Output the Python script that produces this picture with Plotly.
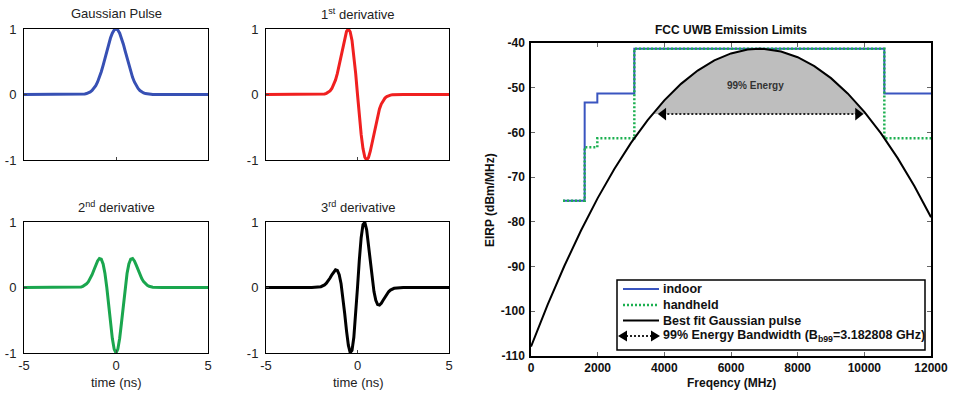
import plotly.graph_objects as go

W, H = 956, 393
FONT = "Liberation Sans, Arial, sans-serif"


def px(x):
    return x / W


def py(y):
    return 1 - y / H


# ---------------- data: left panels (time in ns, normalised amplitude) ----------------
time_ns = [-5.0, -2.5, -2.0, -1.9, -1.8, -1.7, -1.6, -1.5, -1.4, -1.3, -1.2, -1.1, -1.0,
           -0.9, -0.8, -0.7, -0.6, -0.5, -0.4, -0.3, -0.2, -0.1, 0.0, 0.1, 0.2, 0.3, 0.4,
           0.5, 0.6, 0.7, 0.8, 0.9, 1.0, 1.1, 1.2, 1.3, 1.4, 1.5, 1.6, 1.7, 1.8, 1.9, 2.0,
           2.5, 5.0]

gauss_pulse = [0, 0, 0.0013, 0.0026, 0.0047, 0.0084, 0.0145, 0.0243, 0.0392, 0.0612, 0.0925,
               0.1353, 0.1915, 0.2622, 0.3472, 0.4449, 0.5516, 0.6615, 0.7676, 0.8618, 0.9360,
               0.9836, 1.0, 0.9836, 0.9360, 0.8618, 0.7676, 0.6615, 0.5516, 0.4449, 0.3472,
               0.2622, 0.1915, 0.1353, 0.0925, 0.0612, 0.0392, 0.0243, 0.0145, 0.0084, 0.0047,
               0.0026, 0.0013, 0, 0]

deriv1 = [0, 0, 0.0020, 0.0044, 0.0089, 0.0174, 0.0317, 0.0549, 0.0914, 0.1458, 0.2220,
          0.3225, 0.4462, 0.5873, 0.7334, 0.8663, 0.9631, 1.0, 0.9577, 0.8263, 0.6088, 0.3232,
          0, -0.3232, -0.6088, -0.8263, -0.9577, -1.0, -0.9631, -0.8663, -0.7334, -0.5873,
          -0.4462, -0.3225, -0.2220, -0.1458, -0.0914, -0.0549, -0.0317, -0.0174, -0.0089,
          -0.0044, -0.0020, 0, 0]

deriv2 = [0, 0, 0.0050, 0.0094, 0.0179, 0.0327, 0.0554, 0.0888, 0.1354, 0.1958, 0.2670,
          0.3414, 0.4059, 0.4433, 0.4337, 0.3603, 0.2142, 0.0, -0.2614, -0.5346, -0.7754,
          -0.9410, -1.0, -0.9410, -0.7754, -0.5346, -0.2614, 0.0, 0.2142, 0.3603, 0.4337,
          0.4433, 0.4059, 0.3414, 0.2670, 0.1958, 0.1354, 0.0888, 0.0554, 0.0327, 0.0179,
          0.0094, 0.0050, 0, 0]

deriv3 = [0, 0, 0.0126, 0.0230, 0.0398, 0.0652, 0.1005, 0.1449, 0.1946, 0.2411, 0.2695,
          0.2610, 0.1963, 0.0620, -0.1419, -0.3963, -0.6609, -0.8798, -0.9942, -0.9595,
          -0.7605, -0.4208, 0, 0.4208, 0.7605, 0.9595, 0.9942, 0.8798, 0.6609, 0.3963,
          0.1419, -0.0620, -0.1963, -0.2610, -0.2695, -0.2411, -0.1946, -0.1449, -0.1005,
          -0.0652, -0.0398, -0.0230, -0.0126, 0, 0]

time_ticks = [-5, 0, 5]
time_tick_text = ["-5", "0", "5"]
amp_ticks = [-1, 0, 1]
amp_tick_text = ["-1", "0", "1"]

# ---------------- data: right panel (FCC mask) ----------------
mask_freq = [960, 1610, 1990, 3100, 10600, 12000]
indoor_eirp = [-75.3, -53.3, -51.3, -41.3, -51.3, -51.3]
handheld_eirp = [-75.3, -63.3, -61.3, -41.3, -61.3, -61.3]

fit_freq = [0, 500, 1000, 1500, 2000, 2500, 3000, 3500, 4000, 4500, 5000, 5500, 6000, 6500,
            6850, 7000, 7500, 8000, 8500, 9000, 9500, 10000, 10500, 11000, 11500, 12000]
fit_eirp = [-107.9, -98.53, -89.88, -81.93, -74.69, -68.16, -62.34, -57.23, -52.83, -49.14,
            -46.16, -43.89, -42.33, -41.47, -41.3, -41.33, -41.90, -43.18, -45.16, -47.86,
            -51.27, -55.38, -60.21, -65.75, -71.99, -78.95]

shade_freq = [3643, 4000, 4500, 5000, 5500, 6000, 6500, 6850, 7000, 7500, 8000, 8500, 9000,
              9500, 10000, 10057]
shade_eirp = [-55.9, -52.83, -49.14, -46.16, -43.89, -42.33, -41.47, -41.3, -41.33, -41.90,
              -43.18, -45.16, -47.86, -51.27, -55.38, -55.9]

arrow_freq = [3970, 9810]
arrow_eirp = [-55.9, -55.9]

freq_ticks = [0, 2000, 4000, 6000, 8000, 10000, 12000]
freq_tick_text = ["0", "2000", "4000", "6000", "8000", "10000", "12000"]
eirp_ticks = [-110, -100, -90, -80, -70, -60, -50, -40]
eirp_tick_text = ["-110", "-100", "-90", "-80", "-70", "-60", "-50", "-40"]

# ---------------- figure ----------------
fig = go.Figure()

panels = [
    ("x", "y", gauss_pulse, "#3750b4"),
    ("x2", "y2", deriv1, "#f02020"),
    ("x3", "y3", deriv2, "#1aa64e"),
    ("x4", "y4", deriv3, "#000000"),
]
for xa, ya, vals, col in panels:
    fig.add_trace(go.Scatter(x=time_ns, y=vals, mode="lines", xaxis=xa, yaxis=ya,
                             line=dict(color=col, width=3), showlegend=False,
                             hoverinfo="skip"))

GREEN_DOT = dict(color="#1cb050", width=2.5, dash="2px,2px")

# right panel
fig.add_trace(go.Scatter(x=shade_freq, y=shade_eirp, mode="lines", fill="toself",
                         fillcolor="#bebebe", line=dict(width=0), xaxis="x5", yaxis="y5",
                         showlegend=False, hoverinfo="skip"))
fig.add_trace(go.Scatter(x=mask_freq, y=indoor_eirp, mode="lines", line_shape="hv",
                         line=dict(color="#3a55c0", width=2), xaxis="x5", yaxis="y5",
                         name="indoor", showlegend=False))
fig.add_trace(go.Scatter(x=mask_freq, y=handheld_eirp, mode="lines", line_shape="hv",
                         line=GREEN_DOT, xaxis="x5",
                         yaxis="y5", name="handheld", showlegend=False))
fig.add_trace(go.Scatter(x=fit_freq, y=fit_eirp, mode="lines",
                         line=dict(color="black", width=2), xaxis="x5", yaxis="y5",
                         name="Best fit Gaussian pulse", showlegend=False))
fig.add_trace(go.Scatter(x=arrow_freq, y=arrow_eirp, mode="lines+markers",
                         line=dict(color="#222", width=2, dash="2px,2px"),
                         marker=dict(symbol=["triangle-left", "triangle-right"], size=11,
                                     color="black"),
                         xaxis="x5", yaxis="y5", showlegend=False, hoverinfo="skip"))

small_tick = dict(family=FONT, size=13, color="#222")


def left_x(dom, show, anchor):
    return dict(domain=dom, range=[-5, 5], tickvals=time_ticks, ticktext=time_tick_text,
                ticks="inside", ticklen=3, showline=True, linecolor="black", linewidth=1,
                mirror=True, showgrid=False, zeroline=False, showticklabels=show,
                tickfont=small_tick, anchor=anchor, automargin=False, fixedrange=True)


def left_y(dom, anchor):
    return dict(domain=dom, range=[-1, 1], tickvals=amp_ticks, ticktext=amp_tick_text,
                ticks="inside", ticklen=3, showline=True, linecolor="black", linewidth=1,
                mirror=True, showgrid=False, zeroline=False, tickfont=small_tick,
                anchor=anchor, ticklabelstandoff=4, automargin=False, fixedrange=True)


xL = [px(24), px(208)]
xR = [px(266), px(449)]
yT = [py(160), py(29)]
yB = [py(353), py(222)]

bold_tick = dict(family=FONT, size=12, color="#111", weight="bold")

fig.update_layout(
    template="none",
    font=dict(family=FONT, color="#222"),
    width=W, height=H, margin=dict(l=0, r=0, t=0, b=0, pad=0, autoexpand=False),
    paper_bgcolor="white", plot_bgcolor="white",
    xaxis=left_x(xL, False, "y"),
    yaxis=left_y(yT, "x"),
    xaxis2=left_x(xR, False, "y2"),
    yaxis2=left_y(yT, "x2"),
    xaxis3=left_x(xL, True, "y3"),
    yaxis3=left_y(yB, "x3"),
    xaxis4=left_x(xR, True, "y4"),
    yaxis4=left_y(yB, "x4"),
    xaxis5=dict(domain=[px(531), px(931)], range=[0, 12000], tickvals=freq_ticks,
                ticktext=freq_tick_text, ticks="inside", ticklen=4, tickcolor="#666",
                showline=True, linecolor="black", linewidth=1.5, mirror="ticks",
                showgrid=False, zeroline=False, tickfont=bold_tick, anchor="y5",
                automargin=False, fixedrange=True),
    yaxis5=dict(domain=[py(356), py(43)], range=[-110, -40], tickvals=eirp_ticks,
                ticktext=eirp_tick_text, ticks="inside", ticklen=4, tickcolor="#666",
                showline=True, linecolor="black", linewidth=1.5, mirror="ticks",
                showgrid=False, zeroline=False, tickfont=bold_tick, anchor="x5",
                ticklabelstandoff=2, automargin=False, fixedrange=True),
)

ann = []
tfont = dict(family=FONT, size=13, color="#222")


def label(text, x, y, font, **kw):
    d = dict(text=text, x=px(x), y=py(y), xref="paper", yref="paper", showarrow=False,
             xanchor="center", yanchor="middle", font=font)
    d.update(kw)
    return d


ann.append(label("Gaussian Pulse", 116, 14, tfont))
ann.append(label("1<sup>st</sup> derivative", 358, 14, tfont))
ann.append(label("2<sup>nd</sup> derivative", 116, 207, tfont))
ann.append(label("3<sup>rd</sup> derivative", 358, 207, tfont))
ann.append(label("time (ns)", 116, 382, tfont))
ann.append(label("time (ns)", 358, 382, tfont))

bfont = dict(family=FONT, size=12, color="#111", weight="bold")
ann.append(label("FCC UWB Emission Limits", 731, 30, bfont))
ann.append(label("Freqency (MHz)", 731, 383, bfont))
ann.append(label("EIRP (dBm/MHz)", 490, 200, bfont, textangle=-90))
ann.append(dict(text="99% Energy", x=6720, y=-49.5, xref="x5", yref="y5", showarrow=False,
                xanchor="center", yanchor="middle",
                font=dict(family=FONT, size=10, color="#333", weight="bold")))

# manual legend
shapes = []
shapes.append(dict(type="rect", xref="paper", yref="paper", x0=px(617), x1=px(925),
                   y0=py(350), y1=py(280), line=dict(color="black", width=1.5),
                   fillcolor="white", layer="above"))
rows = [289, 305, 320.5, 336]
legend_items = [
    ("indoor", dict(color="#3a55c0", width=2)),
    ("handheld", GREEN_DOT),
    ("Best fit Gaussian pulse", dict(color="black", width=2)),
    ("99% Energy Bandwidth (B<sub>b99</sub>=3.182808 GHz)",
     dict(color="#222", width=2, dash="2px,2px")),
]
for i, (text, lst) in enumerate(legend_items):
    yy = rows[i]
    if i < 3:
        shapes.append(dict(type="line", xref="paper", yref="paper", x0=px(623), x1=px(659),
                           y0=py(yy), y1=py(yy), line=lst, layer="above"))
    else:
        shapes.append(dict(type="line", xref="paper", yref="paper", x0=px(626), x1=px(652),
                           y0=py(yy), y1=py(yy), line=lst, layer="above"))
        shapes.append(dict(type="path", xref="paper", yref="paper",
                           path=f"M {px(618)},{py(yy)} L {px(627)},{py(yy - 5.5)} "
                                f"L {px(627)},{py(yy + 5.5)} Z",
                           fillcolor="black", line=dict(width=0), layer="above"))
        shapes.append(dict(type="path", xref="paper", yref="paper",
                           path=f"M {px(660)},{py(yy)} L {px(651)},{py(yy - 5.5)} "
                                f"L {px(651)},{py(yy + 5.5)} Z",
                           fillcolor="black", line=dict(width=0), layer="above"))
    ann.append(label(text, 661, yy, dict(bfont, size=12.5), xanchor="left"))

fig.update_layout(annotations=ann, shapes=shapes)

fig.write_html("out.html")
